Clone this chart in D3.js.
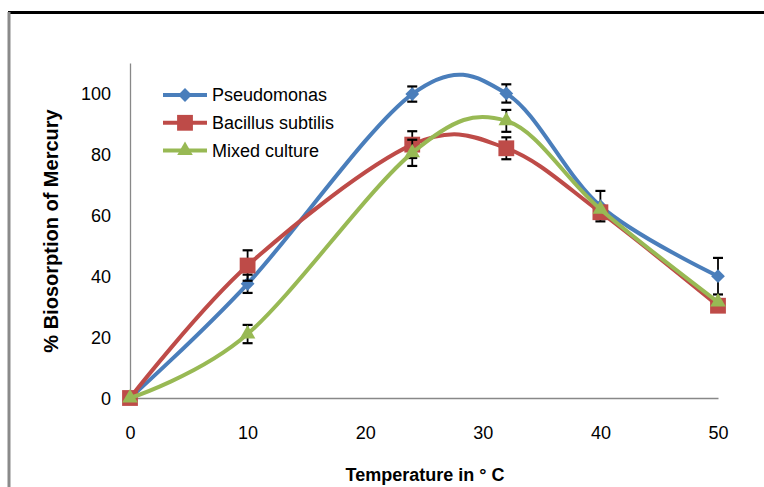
<!DOCTYPE html>
<html>
<head>
<meta charset="utf-8">
<script src="https://cdn.jsdelivr.net/npm/d3@7"></script>
<style>
  html, body { margin: 0; padding: 0; background: #fff; }
  svg { display: block; }
  text { font-family: "Liberation Sans", Arial, sans-serif; fill: #000; }
</style>
</head>
<body>
<svg id="chart" width="764" height="487"></svg>
<script>
// Temperature (°C) at which biosorption was measured
const temperatures = [0, 10, 24, 32, 40, 50];

// % biosorption of mercury for each organism
const seriesNames = ["Pseudomonas", "Bacillus subtilis", "Mixed culture"];
const pseudomonas = [0, 37.5, 99.8, 100, 63, 40];
const bacillus    = [0, 43.5, 83.2, 82, 61, 30.3];
const mixed       = [0, 21, 80.5, 91, 62, 31.5];

// Standard deviations (error bars)
const pseudomonasErr = [0, 3, 2.5, 3, 5, 6];
const bacillusErr    = [0, 5, 4.4, 3.6, 0, 0];
const mixedErr       = [0, 3, 4.3, 3.6, 0, 0];

const xTicks = [0, 10, 20, 30, 40, 50];
const yTicks = [0, 20, 40, 60, 80, 100];

const colors = ["#4A7EBB", "#BE4B48", "#98B954"];
// diamond = square turned 45 degrees
const shapes = [d3.symbolSquare, d3.symbolSquare, d3.symbolTriangle];
const rotations = [45, 0, 0];
const symbolSizes = [95, 250, 105];

const series = [
  { name: seriesNames[0], values: pseudomonas, err: pseudomonasErr },
  { name: seriesNames[1], values: bacillus, err: bacillusErr },
  { name: seriesNames[2], values: mixed, err: mixedErr }
];

const svg = d3.select("#chart");

// frame lines
svg.append("line").attr("x1", 8).attr("x2", 764).attr("y1", 12.5).attr("y2", 12.5)
  .attr("stroke", "#000").attr("stroke-width", 3);
svg.append("line").attr("x1", 9).attr("x2", 9).attr("y1", 12).attr("y2", 487)
  .attr("stroke", "#8a8a8a").attr("stroke-width", 3);

const x = d3.scaleLinear().domain([0, 50]).range([130, 718]);
const y = d3.scaleLinear().domain([0, 110]).range([398, 63]);

// x axis
const xAxis = svg.append("g").attr("transform", `translate(0,${y(0)})`)
  .call(d3.axisBottom(x).tickValues(xTicks).tickSize(0).tickPadding(0));
xAxis.select(".domain").attr("stroke", "#888").attr("stroke-width", 1.3);
xAxis.selectAll(".tick text")
  .attr("y", 41).attr("dy", 0)
  .style("font-size", "18px").style("font-family", "Liberation Sans, Arial, sans-serif")
  .attr("fill", "#000");

// y axis
const yAxis = svg.append("g").attr("transform", `translate(${x(0)},0)`)
  .call(d3.axisLeft(y).tickValues(yTicks).tickSize(0).tickPadding(0));
yAxis.select(".domain").attr("stroke", "#888").attr("stroke-width", 1.3);
yAxis.selectAll(".tick text")
  .attr("x", -19).attr("dy", "0.35em")
  .style("font-size", "18px").style("font-family", "Liberation Sans, Arial, sans-serif")
  .attr("fill", "#000");

// axis titles
svg.append("text")
  .attr("transform", "translate(58,231) rotate(-90)")
  .attr("text-anchor", "middle")
  .style("font-size", "20px").style("font-weight", "bold")
  .text("% Biosorption of Mercury");

svg.append("text")
  .attr("x", 425).attr("y", 481)
  .attr("text-anchor", "middle")
  .style("font-size", "18px").style("font-weight", "bold")
  .text("Temperature in \u00B0 C");

// smoothed series lines, error bars and markers
const line = d3.line()
  .x((d, i) => x(temperatures[i]))
  .y(d => y(d))
  .curve(d3.curveCardinal.tension(0));

const symbolPath = k => d3.symbol().type(shapes[k]).size(symbolSizes[k])();

series.forEach((s, k) => {
  const g = svg.append("g");
  g.append("path")
    .attr("d", line(s.values))
    .attr("fill", "none")
    .attr("stroke", colors[k])
    .attr("stroke-width", 4)
    .attr("stroke-linejoin", "round")
    .attr("stroke-linecap", "round");

  const bars = s.values.map((v, i) => ({ t: temperatures[i], v, e: s.err[i] })).filter(d => d.e > 0);
  const eb = g.selectAll(".eb").data(bars).enter().append("g").attr("class", "eb");
  eb.append("line")
    .attr("x1", d => x(d.t)).attr("x2", d => x(d.t))
    .attr("y1", d => y(d.v + d.e)).attr("y2", d => y(d.v - d.e))
    .attr("stroke", "#000").attr("stroke-width", 1.8);
  eb.append("line")
    .attr("x1", d => x(d.t) - 5).attr("x2", d => x(d.t) + 5)
    .attr("y1", d => y(d.v + d.e)).attr("y2", d => y(d.v + d.e))
    .attr("stroke", "#000").attr("stroke-width", 2.2);
  eb.append("line")
    .attr("x1", d => x(d.t) - 5).attr("x2", d => x(d.t) + 5)
    .attr("y1", d => y(d.v - d.e)).attr("y2", d => y(d.v - d.e))
    .attr("stroke", "#000").attr("stroke-width", 2.2);

  g.selectAll(".mk").data(s.values).enter().append("path")
    .attr("class", "mk")
    .attr("transform", (d, i) => `translate(${x(temperatures[i])},${y(d)}) rotate(${rotations[k]})`)
    .attr("d", symbolPath(k))
    .attr("fill", colors[k]);
});

// legend
const legend = svg.append("g").attr("transform", "translate(163,95)");
series.forEach((s, k) => {
  const row = legend.append("g").attr("transform", `translate(0,${k * 27.8})`);
  row.append("line").attr("x1", 0).attr("x2", 44).attr("y1", 0).attr("y2", 0)
    .attr("stroke", colors[k]).attr("stroke-width", 4);
  row.append("path")
    .attr("transform", `translate(22,0) rotate(${rotations[k]})`)
    .attr("d", symbolPath(k))
    .attr("fill", colors[k]);
  row.append("text")
    .attr("x", 49).attr("y", 0).attr("dy", "0.36em")
    .style("font-size", "18px")
    .text(s.name);
});
</script>
</body>
</html>
